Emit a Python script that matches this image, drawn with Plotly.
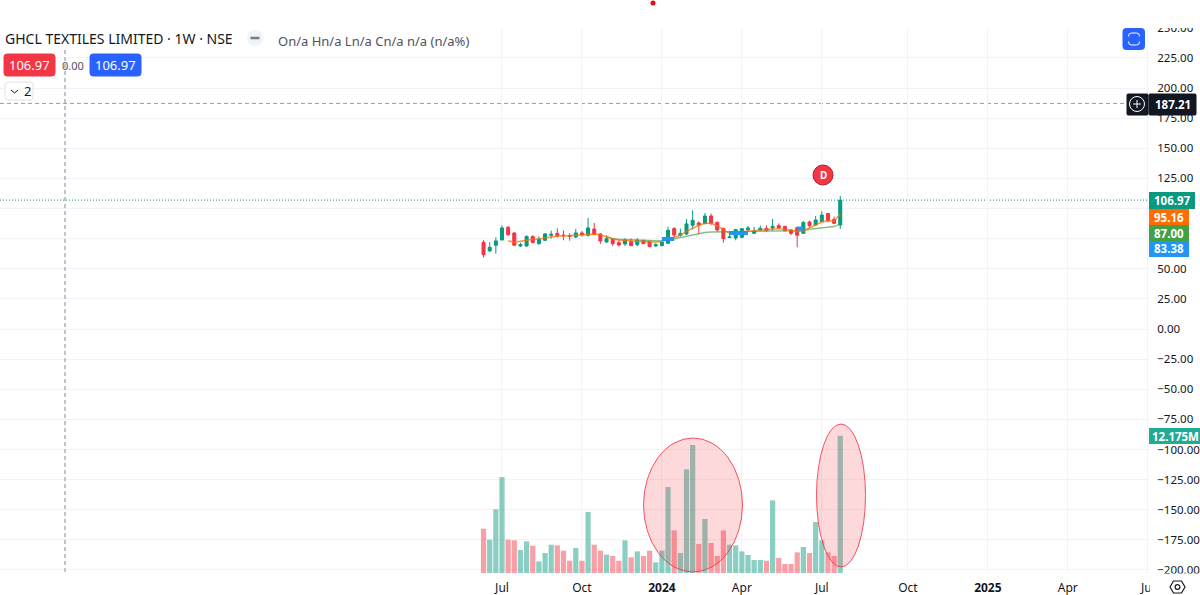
import plotly.graph_objects as go

week_index = list(range(59))
open_ = [72.0,64.8,69.5,73.9,84.4,79.7,68.9,68.9,76.7,70.8,73.6,77.8,79.4,78.0,77.5,76.4,79.7,77.8,83.0,78.9,
         72.2,74.7,71.7,70.6,72.5,70.0,73.6,72.5,68.9,69.2,71.1,83.3,77.8,78.9,86.1,88.0,87.4,93.8,88.6,83.6,
         75.8,75.5,76.1,82.5,79.4,82.2,83.6,83.9,85.8,85.2,82.2,84.1,79.4,88.8,86.3,89.1,95.8,91.0,86.3]
high = [73.9,72.0,76.1,86.1,85.5,80.3,71.7,77.8,77.8,76.9,79.7,81.6,83.6,81.9,79.4,83.0,81.4,92.2,88.0,79.4,
        77.8,75.0,73.9,75.3,75.3,75.5,73.9,73.6,71.1,73.1,85.0,84.7,83.3,91.3,98.5,89.4,96.3,95.8,88.8,83.9,
        81.4,83.0,83.3,85.5,84.7,85.8,86.1,91.3,87.7,85.5,83.0,85.0,89.7,90.0,93.8,97.7,96.0,93.3,110.4]
low = [59.2,64.2,62.5,73.6,77.2,68.9,68.1,68.4,71.1,70.0,73.3,75.0,76.1,73.6,73.3,75.3,76.7,76.7,77.8,70.6,
       71.7,68.9,68.4,68.9,68.6,68.6,70.6,67.8,68.4,68.6,70.6,76.4,76.7,78.0,82.7,78.6,87.2,86.1,80.8,71.7,
       75.5,73.6,75.3,81.4,78.9,81.6,80.8,81.6,83.0,81.1,77.8,67.8,78.9,84.1,85.8,88.6,88.6,86.9,83.0]
close = [61.7,67.8,73.1,83.9,78.3,69.5,70.0,76.7,71.7,74.7,78.9,78.6,77.2,77.5,77.0,79.7,78.0,83.9,78.6,73.1,
         75.0,70.8,69.7,73.9,69.2,73.6,70.8,68.4,70.0,72.0,81.9,78.0,79.4,87.2,90.2,86.3,93.8,87.7,82.2,75.0,
         76.4,82.5,83.3,83.9,81.4,83.6,81.6,85.2,83.9,81.6,79.4,77.8,88.3,85.8,90.5,94.6,89.9,87.7,106.97]
volume_m = [3.93,2.96,5.65,8.51,2.96,2.90,2.04,2.81,2.42,1.03,1.77,2.51,2.45,1.98,1.09,2.22,1.09,5.41,2.51,1.98,
            1.63,1.51,1.09,2.90,1.39,1.92,1.51,1.98,0.95,1.98,7.63,3.78,1.77,9.19,11.35,2.57,4.79,2.66,1.51,3.78,
            2.51,2.45,1.92,1.60,1.15,1.15,1.09,6.44,1.33,0.80,0.80,1.83,2.31,1.77,4.52,2.90,1.83,1.51,12.175]
orange_ma = [None,None,None,None,73.3,72.0,72.8,73.9,74.4,74.7,75.5,76.7,77.2,77.2,77.2,77.8,78.3,78.9,78.9,78.3,
             76.7,74.7,73.9,73.3,73.1,72.8,72.5,72.2,72.0,72.8,75.0,76.1,77.8,81.1,83.9,86.1,87.7,87.7,85.5,82.2,
             79.4,79.4,80.5,81.4,81.6,82.2,82.7,83.0,83.3,82.7,81.6,81.1,81.6,84.1,86.3,88.8,89.9,89.7,95.16]
green_ma = [None]*20 + [76.9,75.0,74.4,74.2,73.9,73.6,73.3,73.3,73.1,73.1,73.9,75.0,75.5,76.9,77.8,78.9,80.0,80.5,80.5,80.5,
                        80.5,80.5,80.5,80.8,81.1,81.1,81.4,81.4,81.6,81.6,81.6,81.6,81.6,82.7,83.3,83.9,84.4,85.0,87.0]
blue_seg = [None]*29 + [74.7,74.7,74.7] + [None]*8 + [79.7,79.7,79.7,79.7] + [None]*7 + [83.38,83.38] + [None]*6
tick_index = [3,16,29,42,55,69,82,95,108]
tick_labels = ["Jul","Oct","<b>2024</b>","Apr","Jul","Oct","<b>2025</b>","Apr","Jul"]
price_ticks = [250,225,200,175,150,125,50,25,0,-25,-50,-75,-100,-125,-150,-175,-200]
hidden_grid_prices = [100,75]

GREEN, RED = "#089981", "#F23645"
FONT = "Noto Sans"
W, H, L_R, TOP, BOT = 1200, 595, 1149, 25, 573
PANE_H = BOT - TOP

def px(x): return x / L_R
def py(y): return (BOT - y) / PANE_H

vol_colors = [GREEN if c >= o else RED for o, c in zip(open_, close)]

fig = go.Figure()
fig.add_bar(x=week_index, y=volume_m, yaxis="y2", marker=dict(color=vol_colors, opacity=0.47, line_width=0), width=0.85)
fig.add_scatter(x=week_index, y=green_ma, mode="lines", line=dict(color="rgba(67,160,71,0.65)", width=1.5))
fig.add_scatter(x=week_index, y=orange_ma, mode="lines", line=dict(color="rgba(255,109,0,0.75)", width=1.5))
fig.add_scatter(x=week_index, y=blue_seg, mode="lines", line=dict(color="#2196F3", width=4))
fig.add_candlestick(x=week_index, open=open_, high=high, low=low, close=close, whiskerwidth=0,
                    increasing=dict(line=dict(color=GREEN, width=1), fillcolor=GREEN),
                    decreasing=dict(line=dict(color=RED, width=1), fillcolor=RED))

shapes, annos = [], []

def box(x0, y0, x1, y1, fill, line=None, r=0, layer="above"):
    x0p, x1p, y0p, y1p = px(x0), px(x1), py(y0), py(y1)
    if r:
        rx, ry = r / L_R, r / PANE_H
        path = (f"M{x0p+rx},{y0p} L{x1p-rx},{y0p} Q{x1p},{y0p} {x1p},{y0p-ry} L{x1p},{y1p+ry} "
                f"Q{x1p},{y1p} {x1p-rx},{y1p} L{x0p+rx},{y1p} Q{x0p},{y1p} {x0p},{y1p+ry} L{x0p},{y0p-ry} Q{x0p},{y0p} {x0p+rx},{y0p} Z")
        shapes.append(dict(type="path", path=path, xref="paper", yref="paper", fillcolor=fill,
                           line=dict(color=line or fill, width=1), layer=layer))
    else:
        shapes.append(dict(type="rect", xref="paper", yref="paper", x0=x0p, x1=x1p, y0=y0p, y1=y1p,
                           fillcolor=fill, line=dict(color=line or fill, width=1 if line else 0), layer=layer))

def circle(cx, cy, rx, ry, fill, line=None, lw=1):
    shapes.append(dict(type="circle", xref="paper", yref="paper", x0=px(cx-rx), x1=px(cx+rx), y0=py(cy-ry), y1=py(cy+ry),
                       fillcolor=fill, line=dict(color=line or "rgba(0,0,0,0)", width=lw), layer="above"))

def seg(x0, y0, x1, y1, color, w=1, dash="solid"):
    shapes.append(dict(type="line", xref="paper", yref="paper", x0=px(x0), x1=px(x1), y0=py(y0), y1=py(y1),
                       line=dict(color=color, width=w, dash=dash), layer="above"))

def text(x, y, s, size=12, color="#131722", anchor="center"):
    annos.append(dict(xref="paper", yref="paper", x=px(x), y=py(y), text=s, showarrow=False, xanchor=anchor, yanchor="middle",
                      font=dict(family=FONT, size=size, color=color), borderpad=0, borderwidth=0))

# grid lines whose axis labels are covered by the price labels in the reference
for v in hidden_grid_prices:
    shapes.append(dict(type="line", xref="paper", yref="y", x0=0, x1=1, y0=v, y1=v,
                       line=dict(color="#f0f3fa", width=1), layer="below"))

# ellipses
circle(693, 505, 49.5, 67, "rgba(242,54,69,0.19)", "rgba(242,54,69,0.85)", 1)
circle(841, 495.5, 24.5, 71.5, "rgba(242,54,69,0.19)", "rgba(242,54,69,0.85)", 1)

# price + crosshair lines
shapes.append(dict(type="line", xref="paper", yref="y", x0=0, x1=1, y0=close[-1], y1=close[-1],
                   line=dict(color=GREEN, width=1, dash="1px,2px"), layer="below"))
shapes.append(dict(type="line", xref="paper", yref="y", x0=0, x1=px(1127), y0=187.21, y1=187.21,
                   line=dict(color="#9a9da6", width=1, dash="4px,3px"), layer="below"))
seg(65, 50, 65, 573, "#aeb1b9", 1.5, "4px,3px")

# masks that clip the pane and the axis labels at its edges
box(0, 0, 1200, 28, "#ffffff")
box(1150, 573.5, 1200, 595, "#ffffff")

# header
text(5, 38.5, "GHCL TEXTILES LIMITED · 1W · NSE", 14, "#131722", "left")
circle(255, 38, 8, 8, "#f0f3fa")
seg(250.5, 38, 259.5, 38, "#787b86", 2.5)
text(278, 41, "On/a Hn/a Ln/a Cn/a n/a (n/a%)", 13, "#50535e", "left")
box(4, 54, 55, 76, RED, r=3)
text(29.5, 65, "106.97", 13, "#ffffff")
text(73, 65, "0.00", 11, "#50535e")
box(90, 54, 141, 76, "#2962FF", r=3)
text(115.5, 65, "106.97", 13, "#ffffff")
box(5, 82, 33, 100, "#ffffff", "#e0e3eb", r=3)
seg(11, 90, 14.5, 93, "#131722", 1)
seg(14.5, 93, 18, 90, "#131722", 1)
text(27, 91, "2", 13, "#131722")

# red dot at top
circle(653, 3, 2.5, 2.5, "#e01010")

# screenshot button
box(1123, 28.5, 1144.5, 49.5, "#2962FF", r=3)
box(1128.5, 33, 1139.5, 45, "#2962FF", "#ffffff", r=3)
box(1126, 36.5, 1142, 41.5, "#2962FF")

# crosshair label
box(1127, 94, 1148, 115, "#131722", r=1)
circle(1137, 104, 7.5, 7.5, "#131722", "#ffffff", 1)
seg(1133, 104, 1141, 104, "#ffffff", 1)
seg(1137, 100, 1137, 108, "#ffffff", 1)
box(1149, 94, 1196, 115, "#131722", r=1)
text(1172.5, 104.5, "<b>187.21</b>", 11.5, "#ffffff")

# right-hand price labels
box(1149, 192, 1195, 209, GREEN)
text(1172, 200.5, "<b>106.97</b>", 11.5, "#ffffff")
box(1149, 209, 1189, 225, "#FF6D00")
text(1169, 217, "<b>95.16</b>", 11.5, "#ffffff")
box(1149, 225, 1189, 241, "#43A047")
text(1169, 233, "<b>87.00</b>", 11.5, "#ffffff")
box(1149, 241, 1189, 257, "#2196F3")
text(1169, 249, "<b>83.38</b>", 11.5, "#ffffff")
box(1149, 428, 1200, 444, "#22AB94")
text(1175, 436, "<b>12.175M</b>", 11.5, "#ffffff")

# dividend marker
circle(823, 175, 10, 10, RED, "#b71c2c", 1)
text(823, 175, "<b>D</b>", 10, "#ffffff")

# settings icon
shapes.append(dict(type="path", xref="paper", yref="paper", fillcolor="rgba(0,0,0,0)",
                   line=dict(color="#131722", width=1.2), layer="above",
                   path=(f"M{px(1170)},{py(587)} L{px(1173.5)},{py(581)} L{px(1181.5)},{py(581)} "
                         f"L{px(1185)},{py(587)} L{px(1181.5)},{py(593)} L{px(1173.5)},{py(593)} Z")))
circle(1177.5, 587, 2.4, 2.4, "rgba(0,0,0,0)", "#131722", 1.2)

fig.update_layout(
    width=W, height=H, autosize=False, showlegend=False, hovermode=False, dragmode=False,
    paper_bgcolor="#ffffff", plot_bgcolor="#ffffff",
    margin=dict(l=0, r=W - L_R, t=TOP, b=H - BOT, autoexpand=False),
    font=dict(family=FONT, size=12, color="#131722"),
    bargap=0.15,
    xaxis=dict(range=[-78.62, 108.2], tickmode="array", tickvals=tick_index, ticktext=tick_labels,
               showgrid=True, gridcolor="#f0f3fa", gridwidth=1, zeroline=False, showline=False,
               ticks="outside", ticklen=4, tickcolor="rgba(0,0,0,0)", rangeslider=dict(visible=False),
               tickfont=dict(family=FONT, size=12, color="#131722")),
    yaxis=dict(range=[-202.5, 252.3], side="right", tickmode="array", tickvals=price_ticks, tickformat=".2f",
               showgrid=True, gridcolor="#f0f3fa", gridwidth=1, zeroline=False, showline=False,
               ticks="outside", ticklen=5, tickcolor="rgba(0,0,0,0)",
               tickfont=dict(family=FONT, size=11.5, color="#131722")),
    yaxis2=dict(range=[0, 48.6], overlaying="y", side="right", visible=False, showgrid=False),
    shapes=shapes, annotations=annos,
)
fig.write_html("out.html", config=dict(displayModeBar=False),
               post_script="document.body.style.margin='0';document.body.style.overflow='hidden';")
